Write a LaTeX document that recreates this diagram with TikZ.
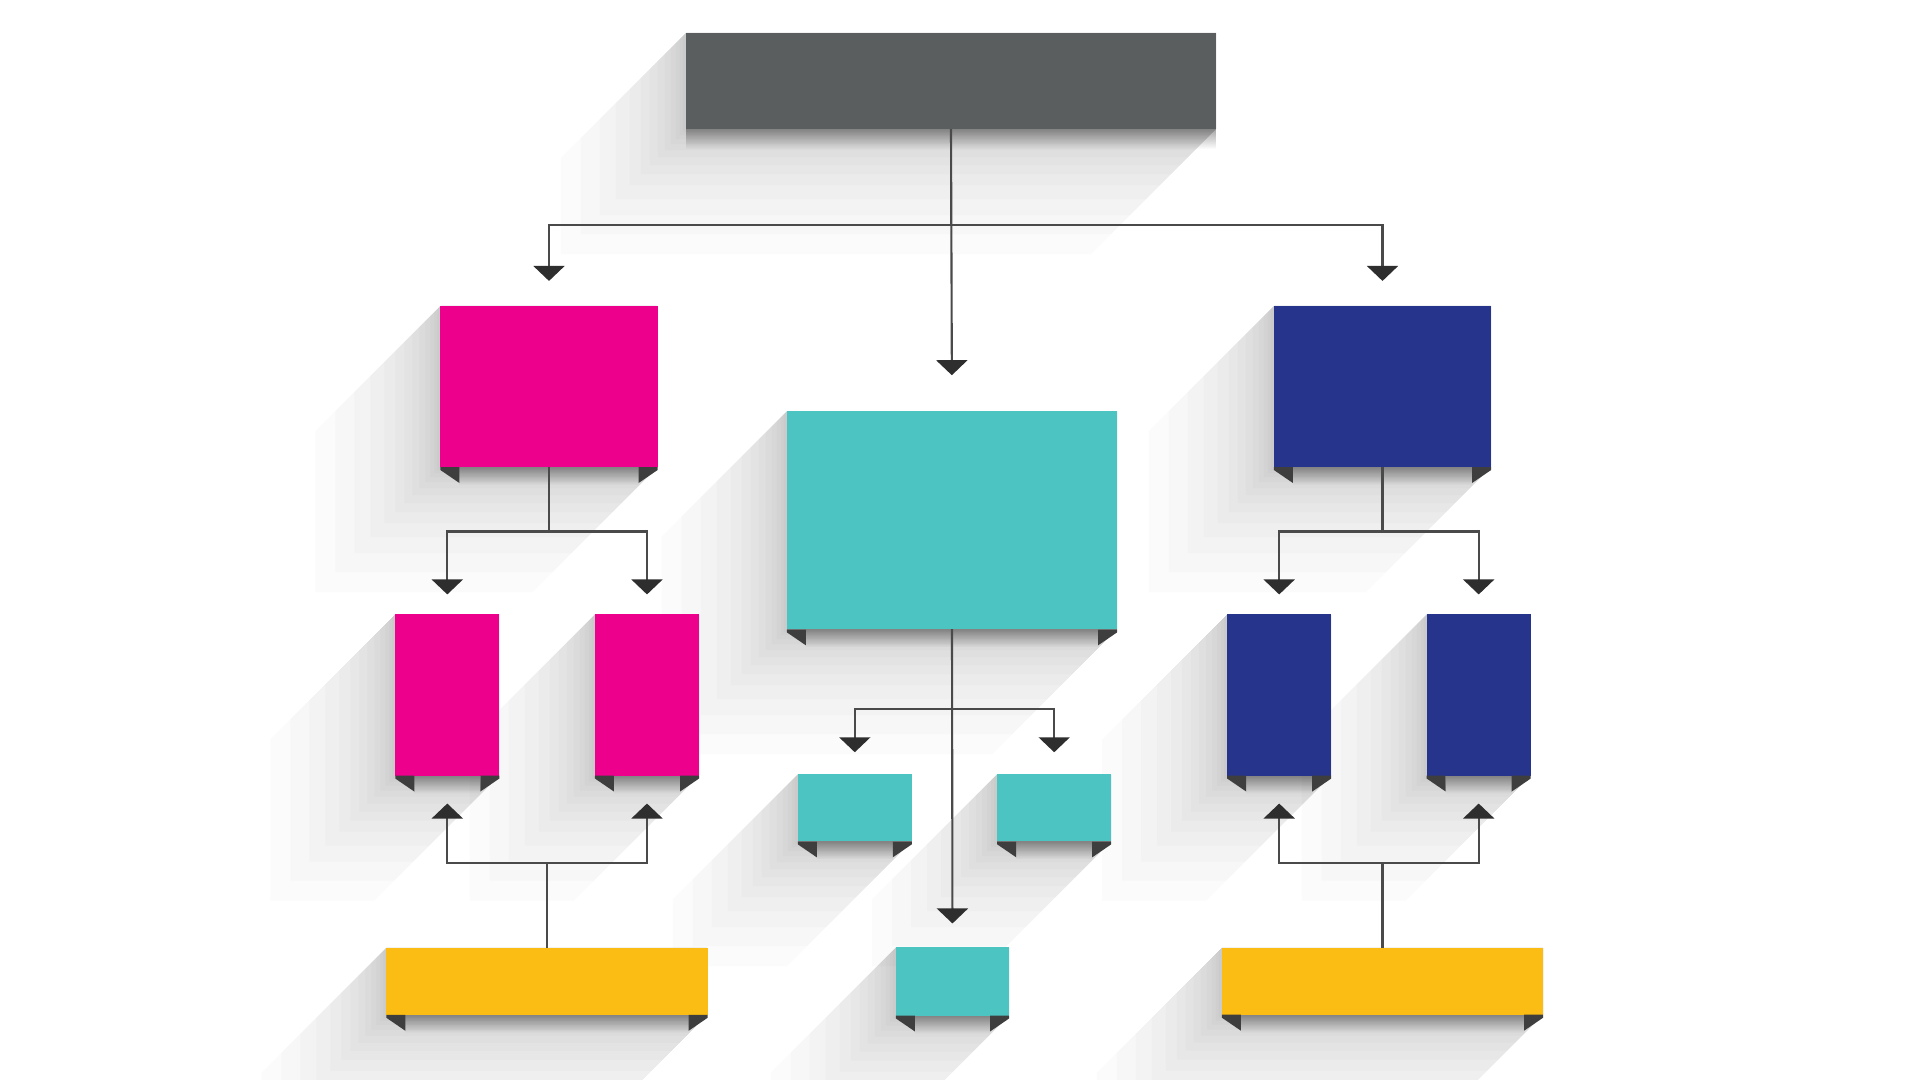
\documentclass[tikz,border=0pt]{standalone}
\usepackage{xcolor}
\usetikzlibrary{positioning,arrows.meta,fadings}

\definecolor{headgrey}{HTML}{5B5E5F}
\definecolor{flowpink}{HTML}{EC008C}
\definecolor{flowteal}{HTML}{4CC4C2}
\definecolor{flownavy}{HTML}{27348B}
\definecolor{flowgold}{HTML}{FBBD13}
\definecolor{tabdark}{HTML}{3E3E3E}
\definecolor{linegrey}{HTML}{4A4A4A}
\definecolor{arrowdark}{HTML}{2E2E2E}

\pgfdeclarelayer{shadows}
\pgfsetlayers{shadows,main}

% long shadow towards the lower left
\newcommand{\longshadow}[1]{%
  \foreach \s in {3,6,10,15,21,28,36,45,56,70,86,105,125}{%
    \fill[shadelayer] (#1.north west) -- (#1.north east) -- (#1.south east)
      -- ([shift={(-\s,\s)}]#1.south east) -- ([shift={(-\s,\s)}]#1.south west)
      -- ([shift={(-\s,\s)}]#1.north west) -- cycle;}}

% dark folds under the bottom corners
\newcommand{\foldtabs}[1]{%
  \fill[undershade] ([xshift=0.19cm]#1.south west) rectangle ([shift={(-19,18)}]#1.south east);
  \fill[foldtab] (#1.south west) -- ++(19,0) -- ++(0,16) -- ++(-19,-13) -- cycle;
  \fill[foldtab] (#1.south east) -- ++(-19,0) -- ++(0,16) -- ++(19,-13) -- cycle;}

\begin{document}
\begin{tikzpicture}[x=0.01cm, y=-0.01cm,
  box/.style={rectangle, inner sep=0pt, outer sep=0pt},
  headbox/.style={box, fill=headgrey, minimum width=5.30cm, minimum height=0.96cm},
  bigbox/.style={box, minimum width=2.17cm, minimum height=1.61cm},
  tallbox/.style={box, minimum width=1.04cm, minimum height=1.61cm},
  smallbox/.style={box, fill=flowteal, minimum width=1.14cm, minimum height=0.67cm},
  widebox/.style={box, fill=flowgold, minimum width=3.21cm, minimum height=0.67cm},
  shadelayer/.style={fill=black, fill opacity=0.014},
  undershade/.style={fill=black, fill opacity=0.35, path fading=south},
  foldtab/.style={fill=tabdark},
  conn/.style={draw=linegrey, line width=0.6pt, -{Triangle[width=0.31cm,length=0.15cm,color=arrowdark]}}
]
\useasboundingbox (0,0) rectangle (1920,1080);

% Boxes
\node[headbox] (head) at (951,81) {};

\node[bigbox, fill=flowpink] (pinkA) at (549,386.5) {};
\node[bigbox, fill=flownavy] (navyA) at (1382.5,386.5) {};
\node[box, fill=flowteal, minimum width=3.30cm, minimum height=2.18cm] (tealA) at (952,520.3) {};

\node[tallbox, fill=flowpink] (pinkB1) at (447.3,695) {};
\node[tallbox, fill=flowpink] (pinkB2) at (647,695) {};
\node[tallbox, fill=flownavy] (navyB1) at (1279.2,695) {};
\node[tallbox, fill=flownavy] (navyB2) at (1478.7,695) {};

\node[smallbox] (tealB1) at (854.8,807.8) {};
\node[smallbox] (tealB2) at (1054.2,807.8) {};
\node[smallbox, minimum width=1.13cm, minimum height=0.68cm] (tealC) at (952.5,981.5) {};

\node[widebox] (goldL) at (547,981.3) {};
\node[widebox] (goldR) at (1382.5,981.2) {};

% Shadows
\begin{pgfonlayer}{shadows}
\fill[white] (0,0) rectangle (1920,1080);
\longshadow{head}
\longshadow{pinkA}
\longshadow{navyA}
\longshadow{tealA}
\longshadow{pinkB1}
\longshadow{pinkB2}
\longshadow{navyB1}
\longshadow{navyB2}
\longshadow{tealB1}
\longshadow{tealB2}
\longshadow{tealC}
\longshadow{goldL}
\longshadow{goldR}
\end{pgfonlayer}

\fill[undershade] (head.south west) rectangle ([shift={(0,20)}]head.south east);
\foldtabs{pinkA}
\foldtabs{navyA}
\foldtabs{tealA}
\foldtabs{pinkB1}
\foldtabs{pinkB2}
\foldtabs{navyB1}
\foldtabs{navyB2}
\foldtabs{tealB1}
\foldtabs{tealB2}
\foldtabs{tealC}
\foldtabs{goldL}
\foldtabs{goldR}

% Connectors
\draw[conn, shorten >=0.25cm] (head.south) -- ++(0,96) -| (pinkA.north);
\draw[conn, shorten >=0.25cm] (head.south) -- ++(0,96) -| (navyA.north);
\draw[conn, shorten >=0.36cm] (head.south) -- (tealA.north);

\draw[conn, shorten >=0.20cm] (pinkA.south) -- ++(0,64.5) -| (pinkB1.north);
\draw[conn, shorten >=0.20cm] (pinkA.south) -- ++(0,64.5) -| (pinkB2.north);
\draw[conn, shorten >=0.20cm] (navyA.south) -- ++(0,64.5) -| (navyB1.north);
\draw[conn, shorten >=0.20cm] (navyA.south) -- ++(0,64.5) -| (navyB2.north);

\draw[conn, shorten >=0.22cm] (tealA.south) -- ++(0,79.5) -| (tealB1.north);
\draw[conn, shorten >=0.22cm] (tealA.south) -- ++(0,79.5) -| (tealB2.north);
\draw[conn, shorten >=0.24cm] (tealA.south) -- (tealC.north);

\draw[conn, shorten >=0.28cm] (goldL.north) -- ++(0,-84.5) -| (pinkB1.south);
\draw[conn, shorten >=0.28cm] (goldL.north) -- ++(0,-84.5) -| (pinkB2.south);
\draw[conn, shorten >=0.28cm] (goldR.north) -- ++(0,-84.5) -| (navyB1.south);
\draw[conn, shorten >=0.28cm] (goldR.north) -- ++(0,-84.5) -| (navyB2.south);

\end{tikzpicture}
\end{document}
